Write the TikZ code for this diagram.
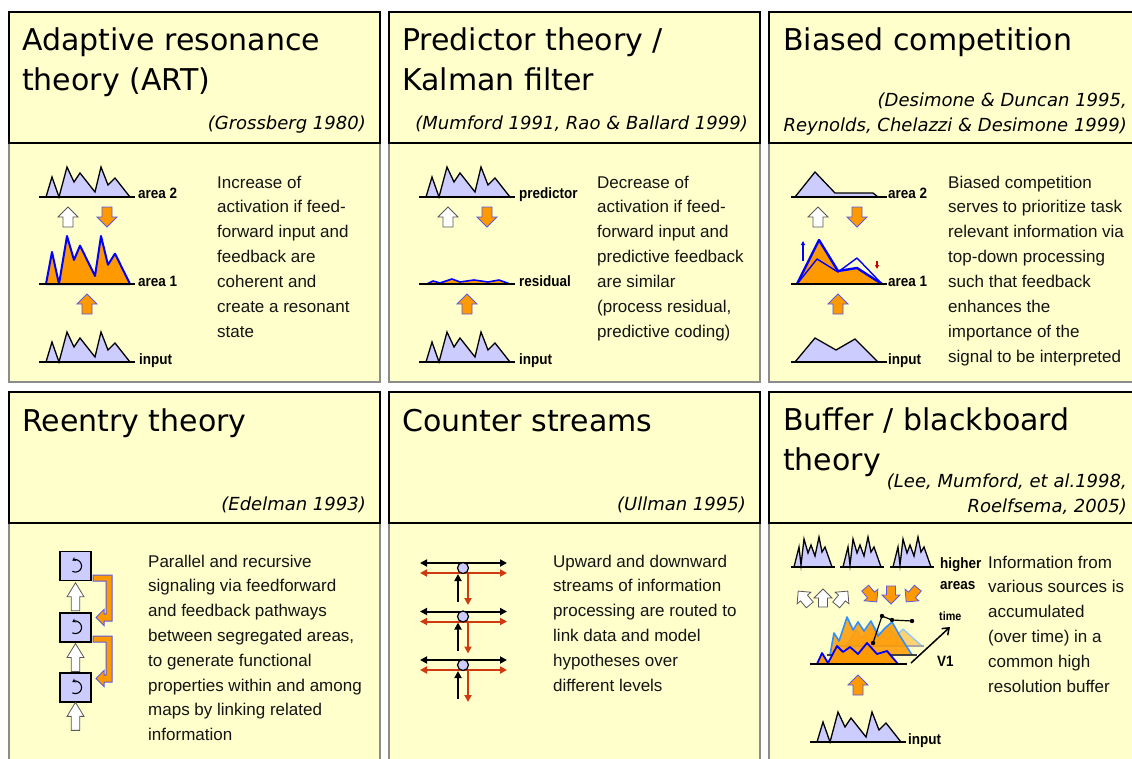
\documentclass[tikz,border=0pt]{standalone}
\usepackage{fontspec}
\setmainfont{Liberation Sans}
\newfontfamily\ttlfont{DejaVu Sans}
\newfontfamily\lblfont[FakeStretch=0.9]{Liberation Sans}
\usetikzlibrary{arrows.meta,calc}
\definecolor{bgy}{HTML}{FFFFCC}
\definecolor{lav}{HTML}{CCCCFF}
\definecolor{org}{HTML}{FF9900}
\definecolor{aout}{HTML}{5A5AE6}
\definecolor{rd}{HTML}{D03A10}
\definecolor{bdgray}{HTML}{8C8C8C}
\definecolor{lblue}{HTML}{2F8FFF}
\definecolor{llblue}{HTML}{8CC8FF}
\begin{document}
\begin{tikzpicture}[x=1pt,y=-1pt,
  hdr/.style={fill=bgy,draw=black,line width=2.6pt},
  bdy/.style={fill=bgy,draw=bdgray,line width=2.6pt},
  ttl/.style={font=\ttlfont\fontsize{30}{36}\selectfont,anchor=base west,inner sep=0pt},
  cite/.style={font=\ttlfont\itshape\fontsize{18}{22}\selectfont,anchor=base east,inner sep=0pt},
  txt/.style={font=\fontsize{17}{25}\selectfont,anchor=base west,inner sep=0pt,text=black!92},
  lbl/.style={font=\lblfont\bfseries\fontsize{15}{15}\selectfont,anchor=base west,inner sep=0pt},
  prof/.style={fill=lav,draw=black,line width=1.3pt,line join=miter},
  act/.style={fill=org,draw=blue,line width=2pt,line join=round},
  base/.style={draw=black,line width=2pt},
  wa/.style={fill=white,draw=black!65,line width=0.8pt},
  oa/.style={fill=org,draw=aout,line width=0.8pt},
  barw/.pic={\path[pic actions] (-5,10)--(-5,0)--(-10,0)--(0,-10)--(10,0)--(5,0)--(5,10)--cycle;},
  artp/.pic={\path[pic actions] (7,0)--(13,-20)--(20,0)--(28,-30)--(35,-15)--(41,-24)--(56,-5)--(62,-30)--(69,-12)--(76,-19)--(91,0)--cycle; \draw[base] (0,0)--(96,0);},
  spk/.pic={\path[pic actions] (3,0)--(8,-20)--(10,-2)--(13,-28)--(17,-14)--(20,-22)--(24,-11)--(28,-30)--(31,-15)--(34,-20)--(41,0)--cycle; \draw[black,line width=1.8pt] (0,0)--(44,0);},
  rbox/.style={fill=lav,draw=black,line width=1.5pt,minimum width=31pt,minimum height=29pt,inner sep=0pt},
  cnode/.style={circle,fill=lav,draw=black,line width=1.2pt,minimum size=11pt,inner sep=0pt},
  ka/.style={draw=black,line width=2pt,-{Triangle[length=7pt,width=7pt]}},
  ra/.style={draw=rd,line width=2pt,-{Triangle[length=7pt,width=7pt]}},
  kda/.style={draw=black,line width=2pt,{Triangle[length=7pt,width=7pt]}-{Triangle[length=7pt,width=7pt]}},
  rda/.style={draw=rd,line width=2pt,{Triangle[length=7pt,width=7pt]}-{Triangle[length=7pt,width=7pt]}},
  brk/.style={fill=org,draw=aout,line width=1pt,line join=miter}
]
\useasboundingbox (0,0) rectangle (1132,758);
\fill[white] (0,0) rectangle (1132,758);
\begin{scope}
\clip (0,0) rectangle (1132,758);
\foreach \xa/\xb in {9/380, 389/760, 769/1142} {
  \path[bdy] (\xa,143) rectangle (\xb,382);
  \path[hdr] (\xa,12) rectangle (\xb,143);
  \path[bdy] (\xa,523) rectangle (\xb,775);
  \path[hdr] (\xa,392) rectangle (\xb,523);
}
\end{scope}

% ---------- titles ----------
\node[ttl] (t1a) at (22,50) {Adaptive resonance};
\node[ttl] (t1b) at (22,90) {theory (ART)};
\node[cite] (c1) at (366,129) {(Grossberg 1980)};
\node[ttl] (t2a) at (402,50) {Predictor theory /};
\node[ttl] (t2b) at (402,90) {Kalman filter};
\node[cite] (c2) at (748,129) {(Mumford 1991, Rao \& Ballard 1999)};
\node[ttl] (t3a) at (783,50) {Biased competition};
\node[cite] (c3a) at (1127,106) {(Desimone \& Duncan 1995,};
\node[cite] (c3b) at (1127,131) {Reynolds, Chelazzi \& Desimone 1999)};
\node[ttl] (t4) at (22,431) {Reentry theory};
\node[cite] (c4) at (366,510) {(Edelman 1993)};
\node[ttl] (t5) at (402,431) {Counter streams};
\node[cite] (c5) at (746,510) {(Ullman 1995)};
\node[ttl] (t6a) at (783,430) {Buffer / blackboard};
\node[ttl] (t6b) at (783,470) {theory};
\node[cite] (c6a) at (1127,487) {(Lee, Mumford, et al.1998,};
\node[cite] (c6b) at (1127,512) {Roelfsema, 2005)};

% ---------- panel 1: ART ----------
\pic[prof] at (39,197) {artp};
\pic[act,yscale=1.6] at (39,284) {artp};
\pic[prof] at (39,362) {artp};
\node[lbl] (p1l2) at (138,198) {area 2};
\node[lbl] (p1l1) at (138,286) {area 1};
\node[lbl] (p1li) at (139,364) {input};
\pic[wa] at (68,217) {barw};
\pic[oa,rotate=180] at (107,217) {barw};
\pic[oa] at (87,304) {barw};
\foreach \s [count=\i from 0] in {Increase of, activation if feed-, forward input and, feedback are, coherent and, create a resonant, state}
  \node[txt] (p1t\i) at (217,188+24.9*\i) {\s};

% ---------- panel 2: predictor ----------
\pic[prof] at (419,197) {artp};
\node[lbl] (p2l2) at (519,198) {predictor};
\fill[org] (427,284)--(433,281)--(440,283)--(452,279)--(460,282)--(474,280)--(488,282)--(499,280)--(510,284)--cycle;
\draw[blue,line width=1.6pt,line join=round] (427,284)--(433,281)--(440,283)--(452,279)--(460,282)--(474,280)--(488,282)--(499,280)--(510,284);
\draw[base] (419,284)--(515,284);
\node[lbl] (p2l1) at (519,286) {residual};
\pic[prof] at (419,362) {artp};
\node[lbl] (p2li) at (519,364) {input};
\pic[wa] at (448,217) {barw};
\pic[oa,rotate=180] at (487,217) {barw};
\pic[oa] at (467,304) {barw};
\foreach \s [count=\i from 0] in {Decrease of, activation if feed-, forward input and, predictive feedback, are similar, {(process residual,}, predictive coding)}
  \node[txt] (p2t\i) at (597,188+24.9*\i) {\s};

% ---------- panel 3: biased competition ----------
\draw[prof] (795,197)--(815,172)--(835,193)--(873,193)--(878,197)--cycle;
\draw[base] (791,197)--(887,197);
\node[lbl] (p3l2) at (888,198) {area 2};
\fill[org] (797,284)--(819,240)--(838,271)--(857,268)--(882,284)--cycle;
\draw[blue,line width=1.4pt,line join=round] (797,284)--(817,259)--(838,272)--(857,258)--(882,284);
\draw[blue,line width=2.4pt,line join=round] (797,284)--(819,240)--(838,271)--(857,268)--(882,284);
\draw[base] (791,284)--(887,284);
\draw[blue,line width=1.2pt,-{Triangle[length=4pt,width=4pt]}] (803,261)--(803,241);
\draw[red!80!black,line width=1.2pt,-{Triangle[length=4pt,width=4pt]}] (877,261)--(877,269);
\node[lbl] (p3l1) at (888,286) {area 1};
\draw[prof] (795,362)--(815,338)--(836,350)--(855,339)--(878,362)--cycle;
\draw[base] (791,362)--(887,362);
\node[lbl] (p3li) at (888,364) {input};
\pic[wa] at (818,217) {barw};
\pic[oa,rotate=180] at (857,217) {barw};
\pic[oa] at (838,304) {barw};
\foreach \s [count=\i from 0] in {Biased competition, serves to prioritize task, relevant information via, top-down processing, such that feedback, enhances the, importance of the, signal to be interpreted}
  \node[txt] (p3t\i) at (948,188+24.9*\i) {\s};

% ---------- panel 4: reentry ----------
\node[rbox] (b1) at (75.5,566) {};
\node[rbox] (b2) at (75.5,627.5) {};
\node[rbox] (b3) at (75.5,687.5) {};
\foreach \b in {b1,b2,b3}
  \draw[line width=1.1pt,{Stealth[length=3.5pt,width=4.5pt]}-] ([shift={(-3.2,-5.4)}]\b.center) arc[start angle=-120,end angle=120,radius=6.2];
\pic[wa,xscale=0.85,yscale=1.4] at ($(b1.south)!0.5!(b2.north)$) {barw};
\pic[wa,xscale=0.85,yscale=1.4] at ($(b2.south)!0.5!(b3.north)$) {barw};
\coordinate (inp4) at (75.5,730);
\pic[wa,xscale=0.85,yscale=1.4] at ($(b3.south)!0.5!(inp4)$) {barw};
\path[brk] (93,575)--(112,575)--(112,621)--(104,621)--(104,625.5)--(96,617.5)--(104,609.5)--(104,614)--(106,614)--(106,581)--(93,581)--cycle;
\path[brk] (93,636)--(112,636)--(112,682)--(104,682)--(104,686.5)--(96,678.5)--(104,670.5)--(104,675)--(106,675)--(106,642)--(93,642)--cycle;
\foreach \s [count=\i from 0] in {Parallel and recursive, signaling via feedforward, and feedback pathways, {between segregated areas,}, to generate functional, properties within and among, maps by linking related, information}
  \node[txt] (p4t\i) at (148,567+24.8*\i) {\s};

% ---------- panel 5: counter streams ----------
\foreach \i in {0,1,2} {
  \pgfmathsetmacro\yy{568+48.5*\i}
  \draw[kda] (420,\yy-5)--(507,\yy-5);
  \draw[rda] (420,\yy+5)--(507,\yy+5);
  \draw[ka] (458,\yy+34)--(458,\yy+6);
  \draw[ra] (468,\yy+6)--(468,\yy+37);
  \node[cnode] (cs\i) at (463,\yy) {};
}
\foreach \s [count=\i from 0] in {Upward and downward, streams of information, processing are routed to, link data and model, hypotheses over, different levels}
  \node[txt] (p5t\i) at (553,567+24.8*\i) {\s};

% ---------- panel 6: buffer ----------
\pic[prof] at (791,567) {spk};
\pic[prof] at (840,567) {spk};
\pic[prof] at (890,567) {spk};
\node[lbl] (p6h1) at (940,568) {higher};
\node[lbl] (p6h2) at (940,589) {areas};
\pic[wa,scale=0.9,rotate=40] at (804,598) {barw};
\pic[wa,scale=0.9] at (823,598) {barw};
\pic[wa,scale=0.9,rotate=-40] at (842,598) {barw};
\pic[oa,scale=0.9,rotate=220] at (871,595) {barw};
\pic[oa,scale=0.9,rotate=180] at (891,595) {barw};
\pic[oa,scale=0.9,rotate=140] at (912,595) {barw};
% back layer
\path[fill=org,fill opacity=0.45] (846,646)--(856,630)--(862,638)--(872,624)--(880,634)--(888,626)--(896,636)--(903,629)--(922,646)--cycle;
\draw[llblue,line width=1.3pt,line join=round] (846,646)--(856,630)--(862,638)--(872,624)--(880,634)--(888,626)--(896,636)--(903,629)--(922,646);
\draw[black!35,line width=1.6pt] (838,646)--(924,646);
% middle layer
\path[fill=org,fill opacity=0.85] (830,655)--(834,633)--(839,641)--(847,617)--(853,630)--(858,622)--(864,631)--(871,621)--(878,636)--(885,628)--(892,622)--(900,636)--(912,655)--cycle;
\draw[lblue,line width=1.6pt,line join=round] (830,655)--(834,633)--(839,641)--(847,617)--(853,630)--(858,622)--(864,631)--(871,621)--(878,636)--(885,628)--(892,622)--(900,636)--(912,655);
\draw[black!75,line width=1.6pt] (827,655)--(917,655);
% front layer
\path[fill=org] (817,664)--(822,653)--(828,663)--(837,646)--(843,652)--(850,647)--(858,654)--(867,643)--(877,654)--(887,651)--(898,664)--cycle;
\draw[blue,line width=1.8pt,line join=round] (817,664)--(822,653)--(828,663)--(837,646)--(843,652)--(850,647)--(858,654)--(867,643)--(877,654)--(887,651)--(898,664);
\draw[base] (810,664)--(907,664);
% time trace
\draw[black,line width=1.2pt] (873,643)--(882,616)--(892,620)--(912,621);
\foreach \p in {(873,643),(882,616),(892,620),(912,621)} \fill[black] \p circle[radius=2.2];
\coordinate (tA) at (911,663);
\coordinate (tB) at (950,627);
\draw[black,line width=1.5pt,-{Straight Barb[length=6pt,width=9pt]}] (tA)--(tB);
\node[lbl,font=\lblfont\bfseries\fontsize{12}{12}\selectfont] (p6time) at (939,620) {time};
\node[lbl] (p6v1) at (937,666) {V1};
\pic[oa] at (858,685) {barw};
\pic[prof] at (810,742) {artp};
\node[lbl] (p6in) at (908,744) {input};
\foreach \s [count=\i from 0] in {Information from, various sources is, accumulated, (over time) in a, common high, resolution buffer}
  \node[txt] (p6t\i) at (988,568+24.8*\i) {\s};
\end{tikzpicture}
\end{document}
